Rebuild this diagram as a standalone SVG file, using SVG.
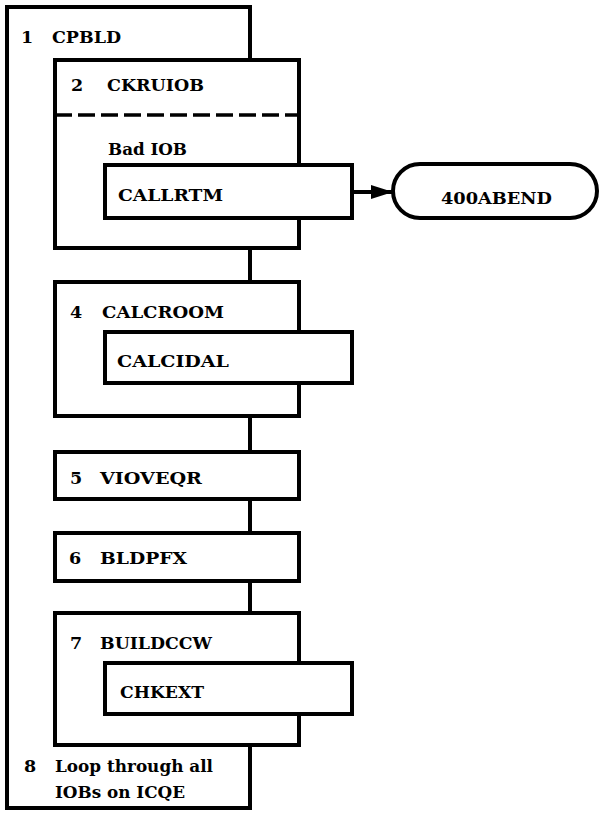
<svg xmlns="http://www.w3.org/2000/svg" width="599" height="813" viewBox="0 0 599 813">
<style>
.box{fill:#fff;stroke:#000;stroke-width:4}
.outer{fill:#fff;stroke:#000;stroke-width:4}
.ln{fill:none;stroke:#000;stroke-width:4}
.dash{fill:none;stroke:#000;stroke-width:3.5;stroke-dasharray:17 6}
text{font-family:"DejaVu Serif","Liberation Serif",serif;font-weight:bold;font-size:17.5px;fill:#000}
</style>
<defs>
<marker id="ah" markerUnits="userSpaceOnUse" markerWidth="24" markerHeight="14" refX="22" refY="7" orient="auto">
<path d="M0,0 L22,7 L0,14 z" fill="#000"/>
</marker>
</defs>
<g id="n1">
<rect class="outer" x="7" y="7" width="243" height="801"/>
<text x="21" y="43">1</text>
<text x="52" y="43" textLength="69" lengthAdjust="spacingAndGlyphs">CPBLD</text>
<text x="24" y="772">8</text>
<text x="55" y="772" textLength="158" lengthAdjust="spacingAndGlyphs">Loop through all</text>
<text x="55" y="798" textLength="130" lengthAdjust="spacingAndGlyphs">IOBs on ICQE</text>
</g>
<g id="connectors">
<line class="ln" x1="250" y1="248" x2="250" y2="282"/>
<line class="ln" x1="250" y1="416" x2="250" y2="452"/>
<line class="ln" x1="250" y1="499" x2="250" y2="533"/>
<line class="ln" x1="250" y1="581" x2="250" y2="613"/>
<line class="ln" x1="250" y1="745" x2="250" y2="808"/>
<line class="ln" x1="352" y1="192" x2="393" y2="192" marker-end="url(#ah)"/>
</g>
<g id="n2">
<rect class="box" x="55" y="60" width="244" height="188"/>
<line class="dash" x1="55" y1="115" x2="299" y2="115"/>
<text x="71" y="91">2</text>
<text x="107" y="91" textLength="97" lengthAdjust="spacingAndGlyphs">CKRUIOB</text>
<text x="108" y="155" textLength="79" lengthAdjust="spacingAndGlyphs">Bad IOB</text>
</g>
<g id="n2a">
<rect class="box" x="105" y="165" width="247" height="53"/>
<text x="118" y="201" textLength="105" lengthAdjust="spacingAndGlyphs">CALLRTM</text>
</g>
<g id="n3">
<rect class="box" x="393" y="164" width="204" height="54" rx="27" ry="27"/>
<text x="441" y="204" textLength="111" lengthAdjust="spacingAndGlyphs">400ABEND</text>
</g>
<g id="n4">
<rect class="box" x="55" y="282" width="244" height="134"/>
<text x="70" y="318">4</text>
<text x="102" y="318" textLength="122" lengthAdjust="spacingAndGlyphs">CALCROOM</text>
</g>
<g id="n4a">
<rect class="box" x="105" y="332" width="247" height="51"/>
<text x="117" y="367" textLength="112" lengthAdjust="spacingAndGlyphs">CALCIDAL</text>
</g>
<g id="n5">
<rect class="box" x="55" y="452" width="244" height="47"/>
<text x="70" y="484">5</text>
<text x="100" y="484" textLength="102" lengthAdjust="spacingAndGlyphs">VIOVEQR</text>
</g>
<g id="n6">
<rect class="box" x="55" y="533" width="244" height="48"/>
<text x="69" y="564">6</text>
<text x="100" y="564" textLength="87" lengthAdjust="spacingAndGlyphs">BLDPFX</text>
</g>
<g id="n7">
<rect class="box" x="55" y="613" width="244" height="132"/>
<text x="70" y="649">7</text>
<text x="100" y="649" textLength="112" lengthAdjust="spacingAndGlyphs">BUILDCCW</text>
</g>
<g id="n7a">
<rect class="box" x="105" y="663" width="247" height="51"/>
<text x="120" y="698" textLength="84" lengthAdjust="spacingAndGlyphs">CHKEXT</text>
</g>
</svg>
